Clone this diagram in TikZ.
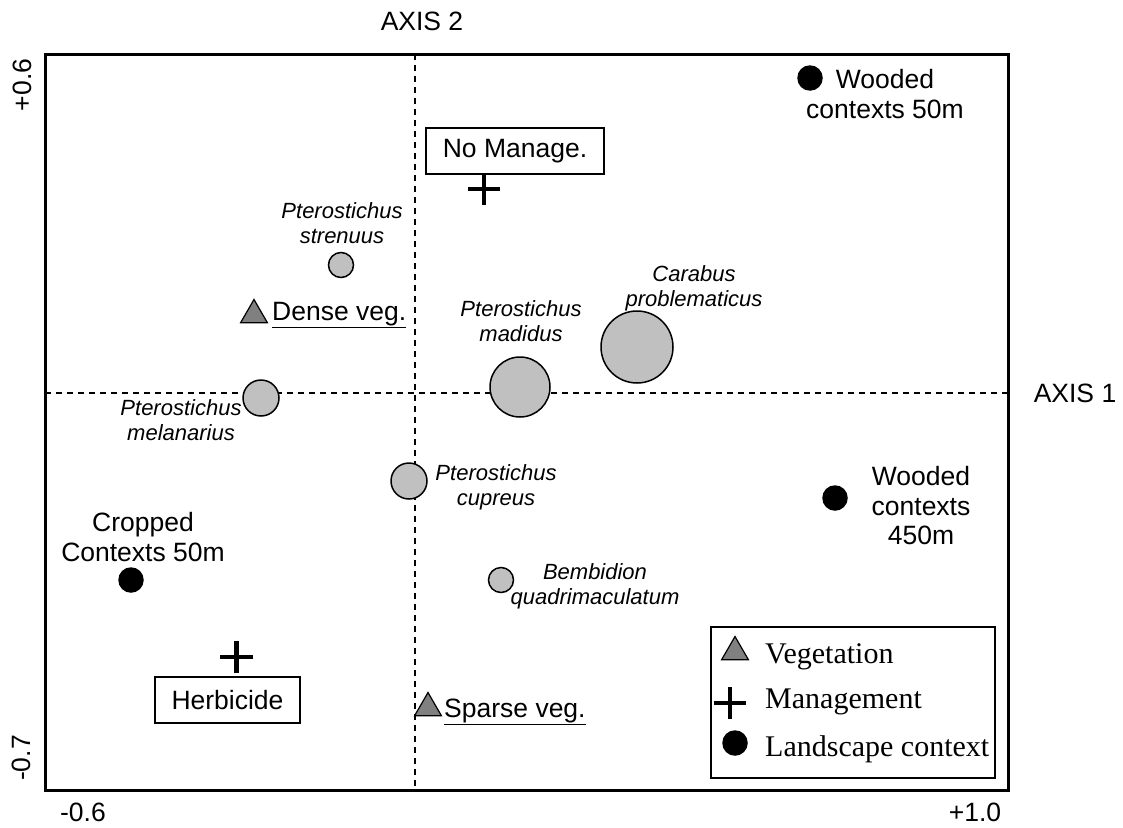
\documentclass[tikz,border=0pt]{standalone}
\usepackage{fontspec}
\setmainfont{Liberation Sans}
\newfontfamily\legendfont{Liberation Serif}
\usetikzlibrary{shapes.geometric, shapes.misc}
\definecolor{spgray}{RGB}{192,192,192}
\definecolor{veggray}{RGB}{128,128,128}

\begin{document}
\begin{tikzpicture}[
    x=1pt, y=-1pt,
    lbl/.style={
        font=\fontsize{26.5}{29.5}\selectfont,
        align=center,
        inner sep=0
    },
    species/.style={
        font=\fontsize{22}{25}\selectfont\itshape,
        align=center,
        inner sep=0
    },
    spdot/.style={
        circle,
        draw,
        line width=1.5pt,
        fill=spgray,
        inner sep=0,
        minimum size=#1
    },
    ctxdot/.style={
        circle,
        fill=black,
        inner sep=0,
        minimum size=25.5pt
    },
    vegmark/.style={
        regular polygon,
        regular polygon sides=3,
        draw,
        line width=1.2pt,
        fill=veggray,
        inner sep=0,
        minimum size=31pt
    },
    mgmtmark/.style={
        cross out,
        draw,
        rotate=45,
        line width=4.5pt,
        inner sep=0,
        minimum size=18.5pt
    },
    mgmtbox/.style={
        rectangle,
        draw,
        line width=2pt,
        minimum height=46pt,
        inner xsep=17pt,
        font=\fontsize{26.5}{29.5}\selectfont
    },
    axisline/.style={
        line width=1.5pt,
        dash pattern=on 6pt off 5pt
    },
    legtext/.style={
        font=\legendfont\fontsize{30}{32}\selectfont,
        anchor=base west,
        inner sep=0
    }
]
    \useasboundingbox (0,0) rectangle (1123,827);

    % frame and axes
    \coordinate (frameNW) at (45,54);
    \coordinate (frameSE) at (1008,790);
    \coordinate (vtop) at (415,54);
    \coordinate (vbot) at (415,790);
    \coordinate (hleft) at (45,393);
    \coordinate (hright) at (1008,393);
    \draw[axisline] (vtop) -- (vbot);
    \draw[axisline] (hleft) -- (hright);
    \draw[line width=3pt] (frameNW) rectangle (frameSE);

    \node[lbl] (axis2) at (422,21) {AXIS 2};
    \node[lbl] (axis1) at (1075,393) {AXIS 1};
    \node[lbl, rotate=90] (ytop) at (22,85) {+0.6};
    \node[lbl, rotate=90] (ybot) at (21,758) {-0.7};
    \node[lbl] (xleft) at (83,812) {-0.6};
    \node[lbl] (xright) at (975,812) {+1.0};

    % species
    \node[spdot=25pt] (strenuus) at (341,265) {};
    \node[spdot=36pt] (melanarius) at (261,398) {};
    \node[spdot=60pt] (madidus) at (520,387) {};
    \node[spdot=72pt] (carabus) at (637,347) {};
    \node[spdot=36pt] (cupreus) at (409,481) {};
    \node[spdot=25pt] (bembidion) at (501,580) {};

    \node[species] (strenuuslbl) at (342,223) {Pterostichus\\strenuus};
    \node[species] (madiduslbl) at (521,321) {Pterostichus\\madidus};
    \node[species] (melanariuslbl) at (181,420) {Pterostichus\\melanarius};
    \node[species] (cupreuslbl) at (496,487) {Pterostichus\\cupreus};
    \node[species] (carabuslbl) at (694,288) {Carabus\\problematicus};
    \node[species] (bembidionlbl) at (595,586) {Bembidion\\quadrimaculatum};

    % landscape contexts
    \node[ctxdot] (wood50) at (810,78) {};
    \node[ctxdot] (crop50) at (131,580) {};
    \node[ctxdot] (wood450) at (835,498) {};
    \node[lbl] (wood50lbl) at (885,94) {Wooded\\contexts 50m};
    \node[lbl] (crop50lbl) at (143,537) {Cropped\\Contexts 50m};
    \node[lbl] (wood450lbl) at (921,506) {Wooded\\contexts\\450m};

    % vegetation
    \node[vegmark] (dense) at (254,315) {};
    \node[vegmark] (sparse) at (428,708) {};
    \node[lbl, anchor=base west] (denselbl) at (272,320) {\underline{Dense veg.}};
    \node[lbl, anchor=base west] (sparselbl) at (444,717) {\underline{Sparse veg.}};

    % management
    \node[mgmtbox] (nomanage) at (515,151) {No Manage.};
    \node[mgmtmark] (nomanagept) at (484,189) {};
    \node[mgmtbox] (herbicide) at (227.5,700) {Herbicide};
    \node[mgmtmark] (herbicidept) at (236.5,657) {};

    % legend
    \draw[line width=2pt, fill=white] (711,627) rectangle (995,778);
    \node[vegmark] (legveg) at (735,652) {};
    \node[mgmtmark] (legmgmt) at (730,703) {};
    \node[ctxdot] (legctx) at (735,743) {};
    \node[legtext] (legvegtxt) at (765,663) {Vegetation};
    \node[legtext] (legmgmttxt) at (765,708) {Management};
    \node[legtext] (legctxtxt) at (765,756) {Landscape context};
\end{tikzpicture}
\end{document}
